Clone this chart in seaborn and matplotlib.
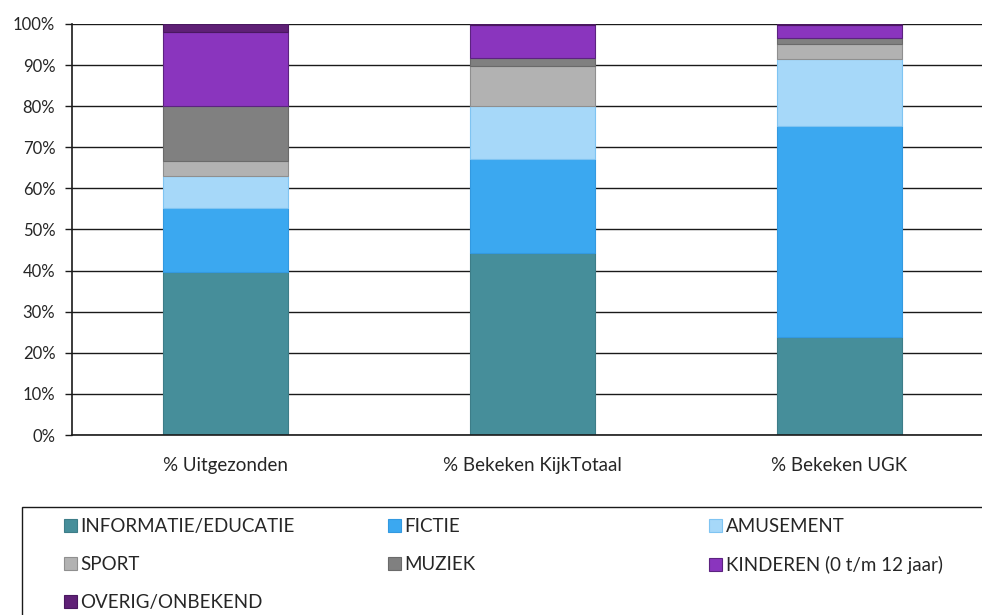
import numpy as np
import pandas as pd
import matplotlib
matplotlib.use("Agg")
import matplotlib.pyplot as plt
from matplotlib.patches import Patch, Rectangle
from matplotlib.ticker import PercentFormatter, FixedLocator
import seaborn as sns

# ---------- data (percent of total per column) ----------
columns = ["% Uitgezonden", "% Bekeken KijkTotaal", "% Bekeken UGK"]
genres = ["INFORMATIE/EDUCATIE", "FICTIE", "AMUSEMENT", "SPORT",
          "MUZIEK", "KINDEREN (0 t/m 12 jaar)", "OVERIG/ONBEKEND"]
informatie = [39.7, 44.3, 23.8]
fictie = [15.5, 22.9, 51.5]
amusement = [7.9, 12.8, 16.2]
sport = [3.6, 9.8, 3.7]
muziek = [13.3, 2.0, 1.5]
kinderen = [18.0, 8.0, 3.0]
overig = [2.0, 0.2, 0.3]

colors = ["#468e9a", "#3ba8f0", "#a6d8f9", "#b2b2b2", "#808080", "#8a35be", "#5f2076"]
edges = ["#3d7d88", "#3399e0", "#7fc4f2", "#8f8f8f", "#6a6a6a", "#5c2380", "#4a1860"]

df = pd.DataFrame(
    [informatie, fictie, amusement, sport, muziek, kinderen, overig],
    index=genres, columns=columns,
)

# ---------- style ----------
sns.set_style("white")
plt.rcParams["font.family"] = ["Lato", "DejaVu Sans"]
text_col = "#262626"

fig = plt.figure(figsize=(9.82, 6.15), dpi=100)
ax = fig.add_axes([72 / 982, 1 - 435 / 615, (993 - 72) / 982, (435 - 24) / 615])

# ---------- stacked bars ----------
bottom = np.zeros(len(columns))
for genre, c, ec in zip(genres, colors, edges):
    vals = df.loc[genre].values
    sns.barplot(x=columns, y=vals, bottom=bottom, color=c, edgecolor=ec,
                linewidth=0.8, width=0.404, errorbar=None, saturation=1,
                order=columns, ax=ax)
    bottom = bottom + vals

ax.set_xlim(-0.5, 2.5)
ax.set_ylim(0, 100)
ax.yaxis.set_major_locator(FixedLocator(np.arange(0, 101, 10)))
ax.yaxis.set_major_formatter(PercentFormatter(decimals=0))
ax.set_axisbelow(True)
ax.grid(axis="y", color="#1a1a1a", linewidth=1.0)
ax.grid(axis="x", visible=False)
ax.set_xlabel("")
ax.set_ylabel("")

for s in ["top", "right"]:
    ax.spines[s].set_visible(False)
for s in ["left", "bottom"]:
    ax.spines[s].set_color("#1a1a1a")
    ax.spines[s].set_linewidth(1.2)

ax.xaxis.set_minor_locator(FixedLocator([0.5, 1.5]))
ax.tick_params(axis="x", which="major", length=0, pad=16, labelsize=13.5, labelcolor=text_col)
ax.tick_params(axis="x", which="minor", length=5, width=1, color="#1a1a1a", direction="out")
ax.tick_params(axis="y", which="major", left=True, length=5, width=1, color="#1a1a1a",
               direction="out", pad=7, labelsize=12, labelcolor=text_col)

# ---------- legend box ----------
fig.patches.append(Rectangle((22 / 982, -0.1), 1.2, 0.1 + 1 - 507 / 615,
                             transform=fig.transFigure, fill=False,
                             edgecolor="#1a1a1a", linewidth=1.0))

handles = [Patch(facecolor=c, edgecolor=ec, linewidth=0.8) for c, ec in zip(colors, edges)]
col_groups = [[0, 3, 6], [1, 4], [2, 5]]
col_x = [64 / 982, 388 / 982, 709 / 982]
for idx, x0 in zip(col_groups, col_x):
    fig.legend([handles[i] for i in idx], [genres[i] for i in idx],
               loc="upper left", bbox_to_anchor=(x0, 1 - 518 / 615),
               frameon=False, fontsize=13.5, labelcolor=text_col,
               handlelength=0.68, handleheight=0.68, handletextpad=0.2,
               labelspacing=1.12, borderaxespad=0, borderpad=0)

fig.savefig("out.png", dpi=100)
